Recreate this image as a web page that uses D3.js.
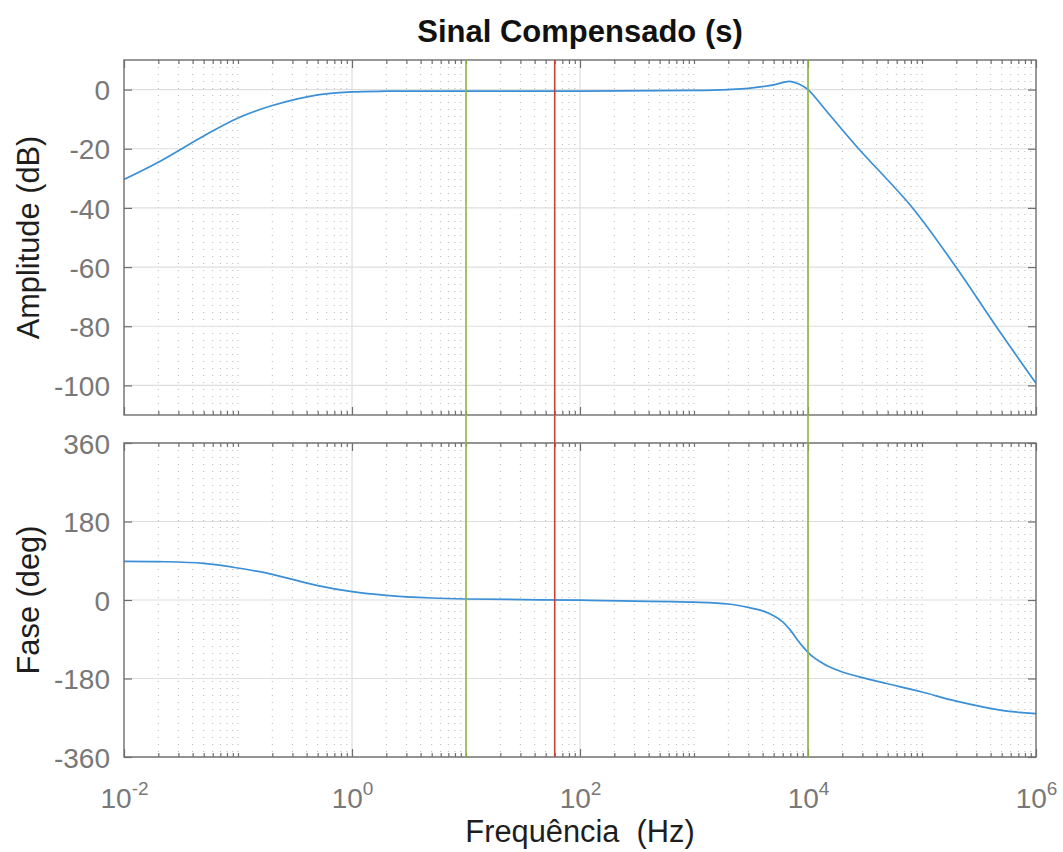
<!DOCTYPE html>
<meta charset="utf-8">
<style>
    body { margin: 0; background: #fff; }
    svg { font-family: "Liberation Sans", Arial, sans-serif; background: #fff; }
</style>
<body>
<svg width="1063" height="852"></svg>
<script src="https://cdn.jsdelivr.net/npm/d3@7/dist/d3.min.js"></script>
<script>
    // values
    var magFreq = [0.01, 0.02, 0.05, 0.1, 0.2, 0.5, 1, 2, 10, 100, 1000, 2000, 3000, 5000, 6900, 8400, 10000, 15000, 27800, 82700, 198600, 446000, 1000000];
    var magDb   = [-30.4, -24.6, -15.7, -9.6, -5.4, -1.8, -0.8, -0.55, -0.5, -0.5, -0.3, 0.0, 0.4, 1.6, 2.8, 1.8, 0.0, -7.9, -20, -40, -60, -80, -99.3];

    var phaseFreq = [0.01, 0.02, 0.05, 0.1, 0.2, 0.5, 1, 2, 5, 10, 100, 1000, 2000, 3000, 4000, 5000, 6000, 7000, 8000, 9000, 10000, 11000, 12500, 15000, 20000, 30000, 50000, 100000, 200000, 500000, 1000000];
    var phaseDeg  = [88.7, 88, 84, 73.4, 58.9, 32.9, 19.1, 10.7, 4.6, 2.3, -0.5, -5, -9.2, -17, -25, -36, -50, -69, -90, -107, -120, -130, -140, -152, -165, -178, -192, -211, -232, -253, -260.6];

    var markerFreq  = [10, 60, 10000];
    var markerColor = ["#8cb83c", "#c9403a", "#8cb83c"];

    var xMajorTicks = [1e-2, 1e0, 1e2, 1e4, 1e6];
    var xTickExp    = ["-2", "0", "2", "4", "6"];
    var magTicks    = [-100, -80, -60, -40, -20, 0];
    var phaseTicks  = [-360, -180, 0, 180, 360];

    var svg = d3.select("svg");
    var left = 124, right = 1036;
    var top1 = 60, bot1 = 415, top2 = 443, bot2 = 757;

    var axisColor = "#6e6e6e",
        tickText = "#787878",
        gridMajor = "#dedede",
        gridMinor = "#b5b5b5",
        curveColor = "#3a8fd6";

    var x = d3.scaleLog().domain([1e-2, 1e6]).range([left, right]);
    var yMag = d3.scaleLinear().domain([-110, 10]).range([bot1, top1]);
    var yPh = d3.scaleLinear().domain([-360, 360]).range([bot2, top2]);

    var minorTicks = x.ticks().filter(function (v) {
        return xMajorTicks.indexOf(v) < 0;
    });

    function panel(y, yTicks, top, bottom, xs, ys, clipId, showX) {
        var g = svg.append("g");

        g.append("defs").append("clipPath").attr("id", clipId)
            .append("rect").attr("x", left).attr("y", top)
            .attr("width", right - left).attr("height", bottom - top);

        // grid
        g.append("g").selectAll("line").data(minorTicks).enter().append("line")
            .attr("x1", function (d) { return x(d); }).attr("x2", function (d) { return x(d); })
            .attr("y1", top).attr("y2", bottom)
            .attr("stroke", gridMinor).attr("stroke-width", 1)
            .attr("stroke-dasharray", "1,6");
        g.append("g").selectAll("line").data(xMajorTicks.slice(1, -1)).enter().append("line")
            .attr("x1", function (d) { return x(d); }).attr("x2", function (d) { return x(d); })
            .attr("y1", top).attr("y2", bottom)
            .attr("stroke", gridMajor).attr("stroke-width", 1.2);
        g.append("g").selectAll("line").data(yTicks).enter().append("line")
            .attr("x1", left).attr("x2", right)
            .attr("y1", function (d) { return y(d); }).attr("y2", function (d) { return y(d); })
            .attr("stroke", gridMajor).attr("stroke-width", 1.2);

        // curve
        var pts = xs.map(function (f, i) { return [f, ys[i]]; });
        g.append("path").datum(pts)
            .attr("clip-path", "url(#" + clipId + ")")
            .attr("fill", "none").attr("stroke", curveColor).attr("stroke-width", 1.7)
            .attr("d", d3.line()
                .x(function (d) { return x(d[0]); })
                .y(function (d) { return y(d[1]); })
                .curve(d3.curveCatmullRom.alpha(0.5)));

        // ticks inside, both sides
        function styleAxis(a) {
            a.select(".domain").remove();
            a.selectAll("line").attr("stroke", axisColor).attr("stroke-width", 1.2);
        }
        g.append("g").attr("transform", "translate(0," + bottom + ")")
            .call(d3.axisBottom(x).tickValues(minorTicks).tickSize(-4).tickFormat("")).call(styleAxis);
        g.append("g").attr("transform", "translate(0," + top + ")")
            .call(d3.axisTop(x).tickValues(minorTicks).tickSize(-4).tickFormat("")).call(styleAxis);
        g.append("g").attr("transform", "translate(0," + top + ")")
            .call(d3.axisTop(x).tickValues(xMajorTicks).tickSize(-8).tickFormat("")).call(styleAxis);
        var xb = g.append("g").attr("transform", "translate(0," + bottom + ")")
            .call(d3.axisBottom(x).tickValues(xMajorTicks).tickSize(-8).tickFormat(""))
            .call(styleAxis);
        g.append("g").attr("transform", "translate(" + right + ",0)")
            .call(d3.axisRight(y).tickValues(yTicks).tickSize(-8).tickFormat("")).call(styleAxis);
        var yl = g.append("g").attr("transform", "translate(" + left + ",0)")
            .call(d3.axisLeft(y).tickValues(yTicks).tickSize(-8).tickPadding(14)
                .tickFormat(function (d) { return String(d); }))
            .call(styleAxis);
        yl.selectAll("text")
            .attr("font-family", "Liberation Sans, Arial, sans-serif")
            .attr("font-size", 28).attr("fill", tickText).attr("dy", "0.36em");

        if (showX) {
            xb.selectAll(".tick").each(function (d, i) {
                var t = d3.select(this).append("text")
                    .attr("y", 51).attr("text-anchor", "middle")
                    .attr("font-family", "Liberation Sans, Arial, sans-serif")
                    .attr("fill", tickText);
                t.append("tspan").attr("font-size", 28).text("10");
                t.append("tspan").attr("font-size", 19).attr("dy", -13).text(xTickExp[i]);
            });
        }

        // box
        g.append("rect").attr("x", left).attr("y", top)
            .attr("width", right - left).attr("height", bottom - top)
            .attr("fill", "none").attr("stroke", axisColor).attr("stroke-width", 1.4);
    }

    panel(yMag, magTicks, top1, bot1, magFreq, magDb, "clipMag", false);
    panel(yPh, phaseTicks, top2, bot2, phaseFreq, phaseDeg, "clipPh", true);

    // marker lines across both panels
    svg.append("g").selectAll("line").data(markerFreq).enter().append("line")
        .attr("x1", function (d) { return x(d); }).attr("x2", function (d) { return x(d); })
        .attr("y1", top1).attr("y2", bot2)
        .attr("stroke", function (d, i) { return markerColor[i]; })
        .attr("stroke-width", 1.6);

    // titles and labels
    var mid = (left + right) / 2;
    svg.append("text").attr("x", mid).attr("y", 42)
        .attr("text-anchor", "middle").attr("font-size", 31).attr("font-weight", "bold")
        .attr("fill", "#111").text("Sinal Compensado (s)");

    svg.append("text").attr("x", mid).attr("y", 842)
        .attr("text-anchor", "middle").attr("font-size", 30.8)
        .attr("fill", "#1e1e1e").attr("xml:space", "preserve").style("white-space", "pre")
        .text("Frequência  (Hz)");

    svg.append("text")
        .attr("transform", "translate(39," + (top1 + bot1) / 2 + ") rotate(-90)")
        .attr("text-anchor", "middle").attr("font-size", 30.8)
        .attr("fill", "#1e1e1e").text("Amplitude (dB)");

    svg.append("text")
        .attr("transform", "translate(39," + (top2 + bot2) / 2 + ") rotate(-90)")
        .attr("text-anchor", "middle").attr("font-size", 30.8)
        .attr("fill", "#1e1e1e").text("Fase (deg)");
</script>
</body>
